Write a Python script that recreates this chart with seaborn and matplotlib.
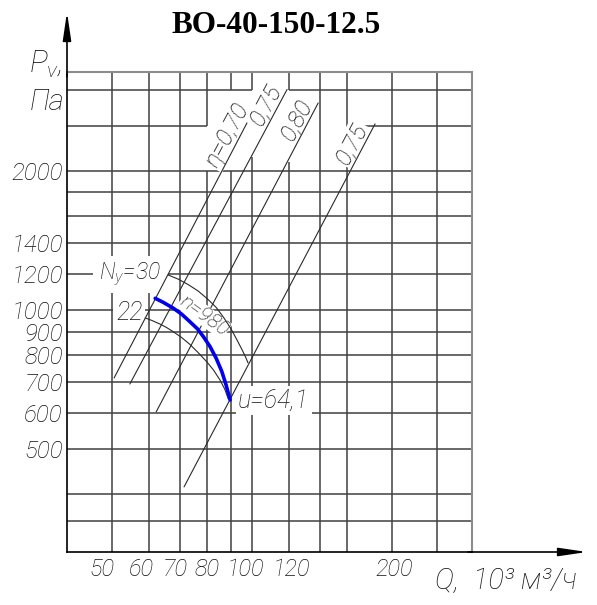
import numpy as np
import pandas as pd
import matplotlib
matplotlib.use("Agg")
import matplotlib.pyplot as plt
from matplotlib.font_manager import FontProperties
from matplotlib.ticker import NullLocator
from matplotlib.transforms import ScaledTranslation
import seaborn as sns

# axis ticks and grid (Q in 10^3 m3/h, P in Pa)
q_ticks = [50, 60, 70, 80, 100, 120, 200]
p_ticks = [500, 600, 700, 800, 900, 1000, 1200, 1400, 2000]
q_grid = [50, 60, 70, 80, 90, 100, 120, 140, 160, 200, 250]
p_grid = [350, 400, 500, 600, 700, 800, 900, 1000, 1200, 1400, 1600, 1800, 2000, 2500, 3000]
q_lim = (40, 297)
p_lim = (300, 3280)

# hand-lettered x labels sit a little off their grid lines (pixels)
q_label_shift = [-10, -7, -5, 0, -7, 2, 2]

# gaps in the drawn grid (value -> list of (from, to) cut out)
v_cut = {80: [(2000, 2500)], 90: [(2000, 3000)], 100: [(2150, 3000)], 120: [(2090, 3000)]}
h_cut = {3000: [(100, 120)], 2500: [(80, 160)], 1200: [(45.5, 66)]}

# efficiency lines
eta_names = ["η=0,70", "0,75", "0,80", "0,75"]
eta_q = [[50.5, 97.5], [54.6, 118.9], [62.2, 138.7], [71.4, 183.8]]
eta_p = [[714, 2545], [693, 3007], [603, 2811], [415, 2533]]

# working curve n = 980
n980_q = [61.9, 64.4, 67.7, 70.6, 73.5, 76.3, 78.6, 81.2, 83.7, 86.1, 87.9, 89.7]
n980_p = [1062, 1041, 1011, 981, 945, 912, 877, 835, 788, 737, 690, 640]

# power arcs Ny = 30 and 22
ny30_q = [66.0, 69.3, 72.8, 76.5, 80.0, 83.7, 87.0, 90.1, 92.8, 95.2, 96.8, 98.0]
ny30_p = [1193, 1169, 1138, 1102, 1061, 1015, 963, 912, 863, 821, 793, 770]
ny22_q = [58.9, 60.9, 63.4, 65.5, 67.7, 70.5, 73.5, 76.5, 79.9, 82.6, 85.3, 87.3, 88.9]
ny22_p = [963, 951, 934, 918, 899, 874, 844, 811, 774, 743, 707, 676, 643]

sns.set_theme(style="white")
FAM = ["Roboto", "DejaVu Sans"]
plt.rcParams["font.family"] = FAM
plt.rcParams["mathtext.fontset"] = "custom"
plt.rcParams["mathtext.it"] = "Roboto:italic:light"
plt.rcParams["mathtext.rm"] = "Roboto:italic:light"


def fp(size):
    return FontProperties(family=FAM, style="italic", weight="light", size=size)


GRID_C = "#404040"
LINE_C = "#2a2a2a"
TXT_C = "#111111"

fig = plt.figure(figsize=(5.97, 6.05), dpi=100)
ax = fig.add_axes([67 / 597, 53 / 605, 405 / 597, 480 / 605])
ax.set_xscale("log")
ax.set_yscale("log")
ax.set_xlim(q_lim)
ax.set_ylim(p_lim)


def spans(lo, hi, cuts):
    segs, start = [], lo
    for a, b in sorted(cuts):
        segs.append((start, a))
        start = b
    segs.append((start, hi))
    return segs


for q in q_grid:
    for a, b in spans(p_lim[0], p_lim[1], v_cut.get(q, [])):
        ax.vlines(q, a, b, color=GRID_C, lw=1.1, zorder=1)
for p in p_grid:
    for a, b in spans(q_lim[0], q_lim[1], h_cut.get(p, [])):
        ax.hlines(p, a, b, color=GRID_C, lw=1.1, zorder=1)

# efficiency lines with labels along them
for name, qq, pp in zip(eta_names, eta_q, eta_p):
    df = pd.DataFrame({"Q": qq, "P": pp})
    sns.lineplot(data=df, x="Q", y="P", ax=ax, sort=False, estimator=None,
                 color=LINE_C, lw=0.8, zorder=4)
    t = 0.93
    lq = np.exp(np.log(qq[0]) + t * (np.log(qq[1]) - np.log(qq[0])))
    lp = np.exp(np.log(pp[0]) + t * (np.log(pp[1]) - np.log(pp[0])))
    ax.text(lq, lp, name, rotation=62, rotation_mode="anchor", ha="center", va="bottom",
            fontproperties=fp(17.5), color=TXT_C, zorder=3,
            bbox=dict(boxstyle="square,pad=0.05", fc="white", ec="none"))

for qq, pp in [(ny30_q, ny30_p), (ny22_q, ny22_p)]:
    sns.lineplot(x=qq, y=pp, ax=ax, sort=False, estimator=None, color=LINE_C, lw=0.8, zorder=5)

sns.lineplot(x=n980_q, y=n980_p, ax=ax, sort=False, estimator=None, color="#0000ee", lw=2.6, zorder=6)

box = dict(boxstyle="square,pad=0.1", fc="white", ec="none")
ax.text(78.9, 975, "n=980", rotation=-36, ha="center", va="center", fontproperties=fp(15),
        color=TXT_C, zorder=4.5, bbox=dict(boxstyle="square,pad=0.02", fc="white", ec="none"))
ax.text(93.3, 637, "u=64,1", ha="left", va="center", fontproperties=fp(18),
        color=TXT_C, zorder=3, bbox=box)
ax.text(54.6, 1195, "$N_y$=30", ha="center", va="center", fontproperties=fp(16.5),
        color=TXT_C, zorder=3, bbox=dict(boxstyle="square,pad=0.2", fc="white", ec="none"))
ax.text(54.4, 987, "22", ha="center", va="center", fontproperties=fp(18),
        color=TXT_C, zorder=3, bbox=box)

# ticks
ax.xaxis.set_minor_locator(NullLocator())
ax.yaxis.set_minor_locator(NullLocator())
ax.set_xticks(q_ticks, labels=[str(v) for v in q_ticks])
ax.set_yticks(p_ticks, labels=[str(v) for v in p_ticks])
ax.tick_params(length=0, colors=TXT_C)
ax.tick_params(axis="x", pad=4)
ax.tick_params(axis="y", pad=3)
for lbl, dx in zip(ax.get_xticklabels(), q_label_shift):
    lbl.set_fontproperties(fp(17))
    lbl.set_transform(lbl.get_transform() + ScaledTranslation(dx / 100, 0, fig.dpi_scale_trans))
for lbl in ax.get_yticklabels():
    lbl.set_fontproperties(fp(17.5))
ax.set_xlabel("")
ax.set_ylabel("")

# frame and arrows
for s in ["top", "right"]:
    ax.spines[s].set_color("#8c8c8c")
    ax.spines[s].set_linewidth(1.5)
for s in ["left", "bottom"]:
    ax.spines[s].set_color("black")
    ax.spines[s].set_linewidth(1.2)
arr = dict(arrowstyle="-|>,head_length=1.7,head_width=0.25", mutation_scale=10,
           lw=1.2, color="black", shrinkA=0, shrinkB=0)
ax.annotate("", xy=(0, 1.125), xytext=(0, 0.99), xycoords="axes fraction",
            arrowprops=arr, annotation_clip=False)
ax.annotate("", xy=(1.284, 0), xytext=(0.99, 0), xycoords="axes fraction",
            arrowprops=arr, annotation_clip=False)

# axis titles
fig.text(45 / 597, 1 - 64 / 605, "$P_v$,", ha="center", va="center", fontproperties=fp(22), color=TXT_C)
fig.text(47 / 597, 1 - 102 / 605, "Па", ha="center", va="center", fontproperties=fp(21), color=TXT_C)
fig.text(435 / 597, 1 - 581 / 605, "Q,  10³ м³/ч", ha="left", va="center", fontproperties=fp(21), color=TXT_C)

fig.text(276.5 / 597, 1 - 33 / 605, "ВО-40-150-12.5", ha="center", va="baseline",
         family="Liberation Serif", weight="bold", size=22.5, color="black")

fig.savefig("out.png", dpi=100, facecolor="white")
